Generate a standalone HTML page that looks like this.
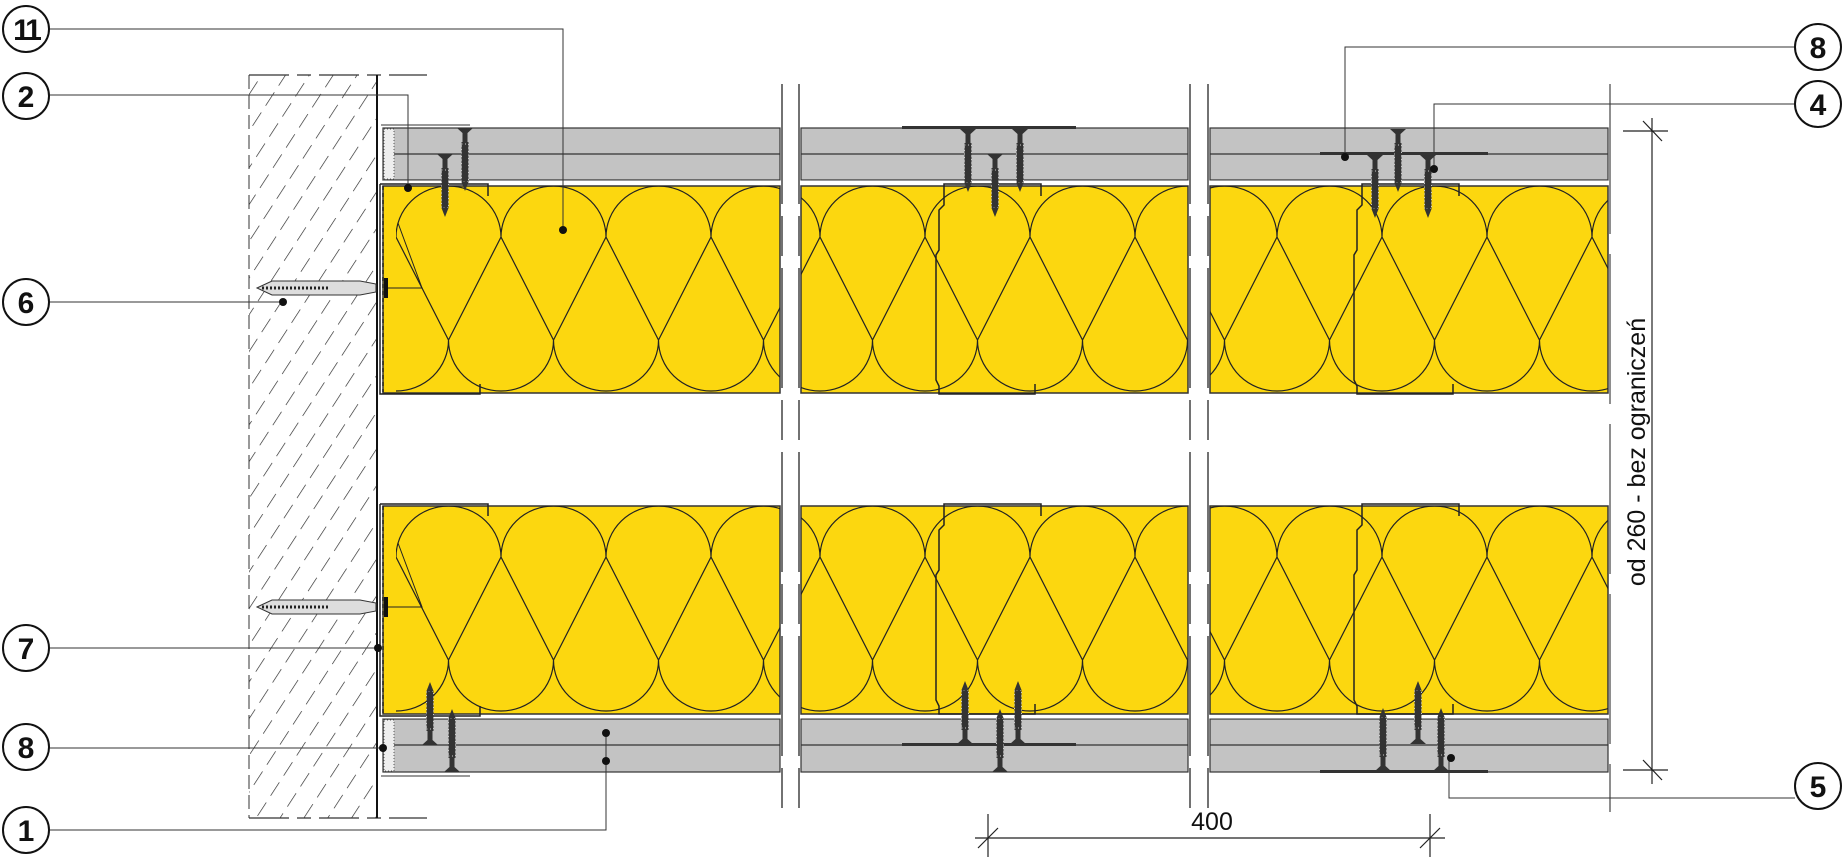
<!DOCTYPE html>
<html><head><meta charset="utf-8"><style>
html,body{margin:0;padding:0;background:#fff;}
svg{display:block;}
text{font-family:"Liberation Sans",sans-serif;}
</style></head><body>
<svg width="1845" height="857" viewBox="0 0 1845 857" xmlns="http://www.w3.org/2000/svg">
<defs>
<pattern id="hatch" patternUnits="userSpaceOnUse" width="20" height="24" patternTransform="rotate(33)">
<line x1="0" y1="0" x2="0" y2="24" stroke="#222" stroke-width="1.3" stroke-dasharray="16,8"/>
</pattern>
<g id="lobe">
<path d="M0,51 A52.5,51 0 0 1 105,51 M-105,51 A52.5,51 0 0 1 0,51 M105,51 A52.5,51 0 0 1 210,51 M0,51 L52.5,154 L105,51 M-52.5,154 L0,51 M105,51 L157.5,154 M-52.5,154 A52.5,51 0 0 0 52.5,154 M52.5,154 A52.5,51 0 0 0 157.5,154" fill="none" stroke="#222" stroke-width="1.2"/>
</g>
<pattern id="ins1" patternUnits="userSpaceOnUse" x="501" y="186" width="105" height="208"><use href="#lobe"/></pattern>
<pattern id="ins2" patternUnits="userSpaceOnUse" x="820" y="186" width="105" height="208"><use href="#lobe"/></pattern>
<pattern id="ins3" patternUnits="userSpaceOnUse" x="1277" y="186" width="105" height="208"><use href="#lobe"/></pattern>
<pattern id="ins1b" patternUnits="userSpaceOnUse" x="501" y="506" width="105" height="208"><use href="#lobe"/></pattern>
<pattern id="ins2b" patternUnits="userSpaceOnUse" x="820" y="506" width="105" height="208"><use href="#lobe"/></pattern>
<pattern id="ins3b" patternUnits="userSpaceOnUse" x="1277" y="506" width="105" height="208"><use href="#lobe"/></pattern>
<g id="screw">
<path d="M-8,0 L8,0 L2.5,5 L2.5,14 L-2.5,14 L-2.5,5 Z" fill="#333"/>
<rect x="-3.5" y="14" width="7" height="40" fill="#333"/>
<rect x="-3.5" y="16" width="7" height="38" fill="none" stroke="#ccc" stroke-width="1" stroke-dasharray="1,2.5"/>
<path d="M-3.5,54 L0,63 L3.5,54 Z" fill="#333"/>
</g>
</defs>

<!-- wall -->
<rect x="249" y="75" width="128" height="743" fill="url(#hatch)"/>
<line x1="249" y1="75" x2="249" y2="818" stroke="#333" stroke-dasharray="14,6"/>
<line x1="249" y1="75" x2="427" y2="75" stroke="#333" stroke-width="1.2" stroke-dasharray="40,8,14,8"/>
<line x1="249" y1="818" x2="427" y2="818" stroke="#333" stroke-width="1.2" stroke-dasharray="40,8,14,8"/>
<line x1="377" y1="75" x2="377" y2="818" stroke="#111" stroke-width="2"/>

<!-- boards -->
<g stroke="#333" stroke-width="1.2">
<rect x="383" y="128" width="397" height="52" fill="#c3c3c3"/>
<rect x="801" y="128" width="387" height="52" fill="#c3c3c3"/>
<rect x="1210" y="128" width="398" height="52" fill="#c3c3c3"/>
<line x1="394" y1="154" x2="780" y2="154"/><line x1="801" y1="154" x2="1188" y2="154"/><line x1="1210" y1="154" x2="1608" y2="154"/>
<rect x="383" y="719" width="397" height="53" fill="#c3c3c3"/>
<rect x="801" y="719" width="387" height="53" fill="#c3c3c3"/>
<rect x="1210" y="719" width="398" height="53" fill="#c3c3c3"/>
<line x1="394" y1="745" x2="780" y2="745"/><line x1="801" y1="745" x2="1188" y2="745"/><line x1="1210" y1="745" x2="1608" y2="745"/>
</g>
<rect x="384" y="129" width="10" height="50" fill="#eee" stroke="#555" stroke-width="1" stroke-dasharray="1,2"/>
<rect x="384" y="720" width="10" height="51" fill="#eee" stroke="#555" stroke-width="1" stroke-dasharray="1,2"/>
<line x1="381" y1="125" x2="470" y2="125" stroke="#333"/>
<line x1="381" y1="776" x2="470" y2="776" stroke="#333"/>

<!-- insulation -->
<g stroke="#333" stroke-width="1.5">
<rect x="383" y="186" width="397" height="207" fill="#fcd70f"/>
<rect x="801" y="186" width="387" height="207" fill="#fcd70f"/>
<rect x="1210" y="186" width="398" height="207" fill="#fcd70f"/>
<rect x="383" y="506" width="397" height="208" fill="#fcd70f"/>
<rect x="801" y="506" width="387" height="208" fill="#fcd70f"/>
<rect x="1210" y="506" width="398" height="208" fill="#fcd70f"/>
</g>
<rect x="396" y="186" width="384" height="207" fill="url(#ins1)"/>
<rect x="801" y="186" width="387" height="207" fill="url(#ins2)"/>
<rect x="1210" y="186" width="398" height="207" fill="url(#ins3)"/>
<rect x="396" y="506" width="384" height="208" fill="url(#ins1b)"/>
<rect x="801" y="506" width="387" height="208" fill="url(#ins2b)"/>
<rect x="1210" y="506" width="398" height="208" fill="url(#ins3b)"/>
<line x1="383" y1="182" x2="1608" y2="182" stroke="#fff" stroke-width="3"/>
<line x1="383" y1="717" x2="1608" y2="717" stroke="#fff" stroke-width="3"/>

<!-- profiles -->
<g fill="none" stroke="#222" stroke-width="1.5">
<path d="M380,184 L380,394 L480,394 L480,384 M380,184 L488,184 L488,196"/>
<path d="M380,504 L380,716 L480,716 L480,706 M380,504 L488,504 L488,516"/>
<path d="M383,186 L383,392" stroke-dasharray="4,3"/>
<path d="M383,506 L383,714" stroke-dasharray="4,3"/>
<path d="M1041,196 L1041,184 L944,184 L944,205 L939,210 L939,250 L936,255 L936,380 L939,386 L939,394 L1035,394 L1035,384"/>
<path d="M1459,196 L1459,184 L1362,184 L1362,205 L1357,210 L1357,250 L1354,255 L1354,380 L1357,386 L1357,394 L1453,394 L1453,384"/>
<path d="M1041,516 L1041,504 L944,504 L944,525 L939,530 L939,570 L936,575 L936,700 L939,706 L939,714 L1035,714 L1035,704"/>
<path d="M1459,516 L1459,504 L1362,504 L1362,525 L1357,530 L1357,570 L1354,575 L1354,700 L1357,706 L1357,714 L1453,714 L1453,704"/>
</g>
<rect x="902" y="126" width="174" height="3" fill="#333"/>
<rect x="1320" y="152" width="168" height="3" fill="#333"/>
<rect x="902" y="743" width="174" height="3" fill="#333"/>
<rect x="1320" y="770" width="168" height="3" fill="#333"/>

<use href="#screw" x="465" y="128"/><use href="#screw" x="445" y="154"/>
<use href="#screw" x="968" y="129"/><use href="#screw" x="995" y="154"/><use href="#screw" x="1020" y="129"/>
<use href="#screw" x="1375" y="155"/><use href="#screw" x="1398" y="129"/><use href="#screw" x="1428" y="155"/>
<g transform="translate(0,1490) scale(1,-1)">
<use href="#screw" x="430" y="745"/><use href="#screw" x="452" y="718"/>
<use href="#screw" x="965" y="746"/><use href="#screw" x="1000" y="718"/><use href="#screw" x="1018" y="746"/>
<use href="#screw" x="1383" y="719"/><use href="#screw" x="1418" y="746"/><use href="#screw" x="1441" y="719"/>
</g>

<!-- anchors -->
<g stroke="#333" stroke-width="1" fill="#ddd">
<path d="M257,288 L272,281 L360,281 L376,284 L376,292 L360,295 L272,295 Z"/>
<path d="M257,607 L272,600 L360,600 L376,603 L376,611 L360,614 L272,614 Z"/>
</g>
<g stroke="#222" stroke-width="3" stroke-dasharray="2,2"><line x1="262" y1="288" x2="330" y2="288"/><line x1="262" y1="607" x2="330" y2="607"/></g>
<rect x="384" y="278" width="4" height="20" fill="#111"/><rect x="384" y="597" width="4" height="20" fill="#111"/>
<path d="M388,288 L422,288 L398,223" fill="none" stroke="#222"/>
<path d="M388,607 L422,607 L398,543" fill="none" stroke="#222"/>

<g stroke="#444" stroke-width="1.5" stroke-dasharray="120,12,40,12">
<line x1="782" y1="84" x2="782" y2="812"/><line x1="799" y1="84" x2="799" y2="812"/>
<line x1="1190" y1="84" x2="1190" y2="812"/><line x1="1208" y1="84" x2="1208" y2="812"/>
</g>
<line x1="1610" y1="84" x2="1610" y2="812" stroke="#444" stroke-width="1.2" stroke-dasharray="150,20"/>

<g fill="none" stroke="#333" stroke-width="1">
<path d="M49,29 L563,29 L563,230"/>
<path d="M49,95 L408,95 L408,188"/>
<path d="M49,302 L283,302"/>
<path d="M49,648 L378,648"/>
<path d="M49,748 L383,748"/>
<path d="M49,830 L606,830 L606,733"/>
<path d="M1795,47 L1345,47 L1345,157"/>
<path d="M1795,104 L1434,104 L1434,169"/>
<path d="M1795,798 L1449,798 L1449,758"/>
</g>
<g fill="#111">
<circle cx="563" cy="230" r="4"/><circle cx="408" cy="188" r="4"/><circle cx="283" cy="302" r="4"/>
<circle cx="378" cy="648" r="4"/><circle cx="383" cy="748" r="4"/><circle cx="606" cy="733" r="4"/><circle cx="606" cy="761" r="4"/>
<circle cx="1345" cy="157" r="4"/><circle cx="1434" cy="169" r="4"/><circle cx="1451" cy="758" r="4"/>
</g>
<g fill="#fff" stroke="#111" stroke-width="2">
<circle cx="26" cy="29" r="23"/><circle cx="26" cy="96" r="23"/><circle cx="26" cy="302" r="23"/>
<circle cx="26" cy="648" r="23"/><circle cx="26" cy="747" r="23"/><circle cx="26" cy="830" r="23"/>
<circle cx="1818" cy="47" r="23"/><circle cx="1818" cy="104" r="23"/><circle cx="1818" cy="786" r="23"/>
</g>
<g font-size="30" font-weight="bold" text-anchor="middle" fill="#111">
<text x="26" y="40" letter-spacing="-3">11</text><text x="26" y="107">2</text><text x="26" y="313">6</text>
<text x="26" y="659">7</text><text x="26" y="758">8</text><text x="26" y="841">1</text>
<text x="1818" y="58">8</text><text x="1818" y="115">4</text><text x="1818" y="797">5</text>
</g>

<g stroke="#222" stroke-width="1.2">
<line x1="1652" y1="118" x2="1652" y2="784"/>
<line x1="1623" y1="131" x2="1668" y2="131"/><line x1="1643" y1="121" x2="1662" y2="141"/>
<line x1="1623" y1="770" x2="1668" y2="770"/><line x1="1643" y1="760" x2="1662" y2="780"/>
<line x1="975" y1="838" x2="1445" y2="838"/>
<line x1="988" y1="814" x2="988" y2="857"/><line x1="978" y1="848" x2="998" y2="828"/>
<line x1="1430" y1="814" x2="1430" y2="857"/><line x1="1420" y1="848" x2="1440" y2="828"/>
</g>
<text x="1212" y="830" font-size="25" text-anchor="middle" fill="#111">400</text>
<text x="0" y="0" font-size="25" text-anchor="middle" fill="#111" transform="translate(1645,452) rotate(-90)">od 260 - bez ograniczeń</text>
</svg>
</body></html>
